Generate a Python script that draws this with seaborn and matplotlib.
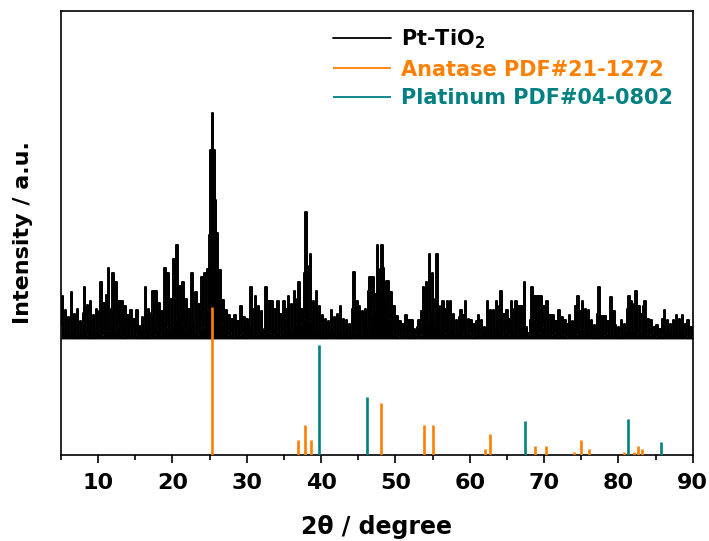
import numpy as np
import pandas as pd
import matplotlib
matplotlib.use('Agg')
import matplotlib.pyplot as plt
from matplotlib.ticker import MultipleLocator
import seaborn as sns

# XRD trace of Pt-TiO2, 0.2 degree step from 5 to 90
# (one row per degree: x.0, x.2, x.4, x.6, x.8)
scan_start, scan_step = 5.0, 0.2
trace_rows = [
    [15, 43, 5, 29, 4],      # 5
    [22, 2, 47, 6, 25],      # 6
    [3, 30, 5, 18, 2],       # 7
    [26, 52, 4, 34, 7],      # 8
    [38, 3, 24, 6, 30],      # 9
    [5, 28, 57, 4, 36],      # 10
    [8, 44, 71, 5, 30],      # 11
    [66, 10, 57, 12, 38],    # 12
    [6, 38, 3, 33, 8],       # 13
    [24, 2, 29, 5, 20],      # 14
    [4, 29, 3, 13, 6],       # 15
    [22, 4, 52, 8, 30],      # 16
    [3, 26, 48, 4, 48],      # 17
    [10, 36, 5, 28, 8],      # 18
    [71, 12, 66, 9, 40],     # 19
    [14, 80, 20, 94, 25],    # 20
    [53, 15, 57, 10, 40],    # 21
    [14, 30, 15, 66, 13],    # 22
    [8, 47, 5, 35, 10],      # 23
    [62, 12, 66, 30, 70],    # 24
    [104, 189, 226, 189, 139],  # 25
    [106, 40, 69, 15, 39],   # 26
    [8, 29, 4, 24, 6],       # 27
    [20, 3, 24, 5, 18],      # 28
    [4, 33, 6, 22, 3],       # 29
    [20, 5, 15, 52, 6],      # 30
    [30, 43, 4, 33, 8],      # 31
    [28, 5, 10, 52, 7],      # 32
    [38, 6, 38, 4, 30],      # 33
    [8, 38, 5, 25, 7],       # 34
    [38, 10, 30, 43, 8],     # 35
    [35, 6, 48, 12, 40],     # 36
    [57, 15, 30, 20, 66],    # 37
    [127, 73, 19, 85, 20],   # 38
    [38, 6, 48, 8, 33],      # 39
    [5, 24, 3, 20, 6],       # 40
    [18, 4, 29, 5, 22],      # 41
    [3, 25, 6, 33, 4],       # 42
    [20, 5, 19, 3, 15],      # 43
    [6, 30, 67, 8, 38],      # 44
    [10, 33, 5, 28, 12],     # 45
    [30, 8, 48, 62, 25],     # 46
    [62, 30, 45, 94, 50],    # 47
    [70, 94, 71, 40, 58],    # 48
    [58, 20, 47, 6, 33],     # 49
    [4, 23, 3, 18, 5],       # 50
    [15, 4, 24, 6, 19],      # 51
    [3, 19, 5, 10, 2],       # 52
    [12, 19, 4, 28, 52],     # 53
    [20, 57, 15, 85, 25],    # 54
    [66, 12, 40, 85, 33],    # 55
    [8, 33, 38, 6, 30],      # 56
    [38, 5, 38, 8, 25],      # 57
    [4, 19, 6, 22, 29],      # 58
    [5, 24, 38, 4, 20],      # 59
    [6, 19, 3, 15, 5],       # 60
    [18, 24, 4, 19, 6],      # 61
    [12, 5, 38, 8, 29],      # 62
    [5, 29, 6, 38, 10],      # 63
    [33, 48, 5, 25, 8],      # 64
    [29, 4, 20, 38, 6],      # 65
    [30, 38, 5, 33, 8],      # 66
    [33, 6, 57, 12, 5],      # 67
    [6, 19, 52, 20, 43],     # 68
    [10, 43, 6, 43, 12],     # 69
    [33, 6, 38, 5, 24],      # 70
    [4, 24, 6, 18, 3],       # 71
    [29, 5, 22, 4, 19],      # 72
    [3, 15, 24, 5, 18],      # 73
    [6, 33, 5, 43, 10],      # 74
    [28, 38, 6, 30, 8],      # 75
    [29, 5, 19, 3, 14],      # 76
    [6, 25, 52, 5, 23],      # 77
    [4, 23, 6, 18, 5],       # 78
    [42, 5, 28, 14, 4],      # 79
    [12, 3, 19, 5, 15],      # 80
    [6, 30, 43, 8, 38],      # 81
    [10, 35, 48, 6, 33],     # 82
    [8, 25, 33, 38, 5],      # 83
    [20, 4, 19, 6, 12],      # 84
    [3, 14, 5, 10, 4],       # 85
    [20, 29, 5, 19, 6],      # 86
    [15, 4, 19, 6, 24],      # 87
    [5, 20, 6, 24, 4],       # 88
    [15, 3, 19, 5, 12],      # 89
    [6],                     # 90
]
trace_offset = 116

# Anatase PDF#21-1272 reference lines
anatase_2theta = [25.281, 36.947, 37.801, 38.576, 48.050, 53.891, 55.062, 62.121, 62.690,
                  68.762, 70.311, 74.031, 75.032, 76.020, 80.727, 82.139, 82.662, 83.149]
anatase_int = [100, 10, 20, 10, 35, 20, 20, 4, 14, 6, 6, 2, 10, 4, 2, 2, 6, 4]
anatase_scale = 1.48

# Platinum PDF#04-0802 reference lines
pt_2theta = [39.763, 46.243, 67.454, 81.286, 85.712]
pt_int = [100, 53, 31, 33, 12]
pt_scale = 1.10

c_anatase = '#FF8000'
c_pt = '#008080'

trace = np.concatenate([np.array(r, dtype=float) for r in trace_rows])
two_theta = scan_start + scan_step * np.arange(len(trace))
df = pd.DataFrame({'2theta': two_theta, 'I': trace + trace_offset})

sns.set_style('ticks')
plt.rcParams.update({'text.color': 'black', 'axes.labelcolor': 'black',
                     'xtick.color': 'black', 'axes.edgecolor': 'black'})
fig = plt.figure(figsize=(7.09, 5.41), dpi=100)
ax = fig.add_axes([0.086, 0.159, 0.891, 0.821])

# dense noisy scan: draw it as steps and fill underneath so it reads as a solid band
sns.lineplot(data=df, x='2theta', y='I', ax=ax, color='black', lw=1.4,
             drawstyle='steps-mid', sort=False, errorbar=None, estimator=None,
             label=r'Pt-TiO$_\mathbf{2}$', zorder=2)
ax.fill_between(df['2theta'], trace_offset, df['I'], step='mid', color='black',
                lw=0, zorder=2)
ax.vlines(anatase_2theta, 0, np.array(anatase_int) * anatase_scale, color=c_anatase,
          lw=1.9, label='Anatase PDF#21-1272', zorder=3)
ax.vlines(pt_2theta, 0, np.array(pt_int) * pt_scale, color=c_pt,
          lw=1.9, label='Platinum PDF#04-0802', zorder=3)

ax.set_xlim(5, 90)
ax.set_ylim(0, 444)
ax.xaxis.set_major_locator(MultipleLocator(10))
ax.xaxis.set_minor_locator(MultipleLocator(5))
ax.set_yticks([])
ax.tick_params(axis='x', which='major', direction='out', length=6, width=1.2,
               labelsize=16, pad=7, colors='black')
ax.tick_params(axis='x', which='minor', direction='out', length=3.5, width=1.2, colors='black')
for lab in ax.get_xticklabels():
    lab.set_fontweight('bold')
for s in ax.spines.values():
    s.set_linewidth(1.2)
    s.set_color('black')
    s.set_visible(True)

ax.set_xlabel('2θ / degree', fontsize=17, fontweight='bold', labelpad=16)
ax.set_ylabel('Intensity / a.u.', fontsize=16, fontweight='bold', labelpad=20)

leg = ax.legend(loc='upper left', bbox_to_anchor=(0.43, 0.963), frameon=False,
                borderaxespad=0, borderpad=0, handlelength=2.8, handletextpad=0.5,
                labelspacing=0.42, prop={'size': 15, 'weight': 'bold'})
for txt, col in zip(leg.get_texts(), ['black', c_anatase, c_pt]):
    txt.set_color(col)
for h in leg.legend_handles:
    h.set_linewidth(1.3)

fig.savefig('out.png', dpi=100)
